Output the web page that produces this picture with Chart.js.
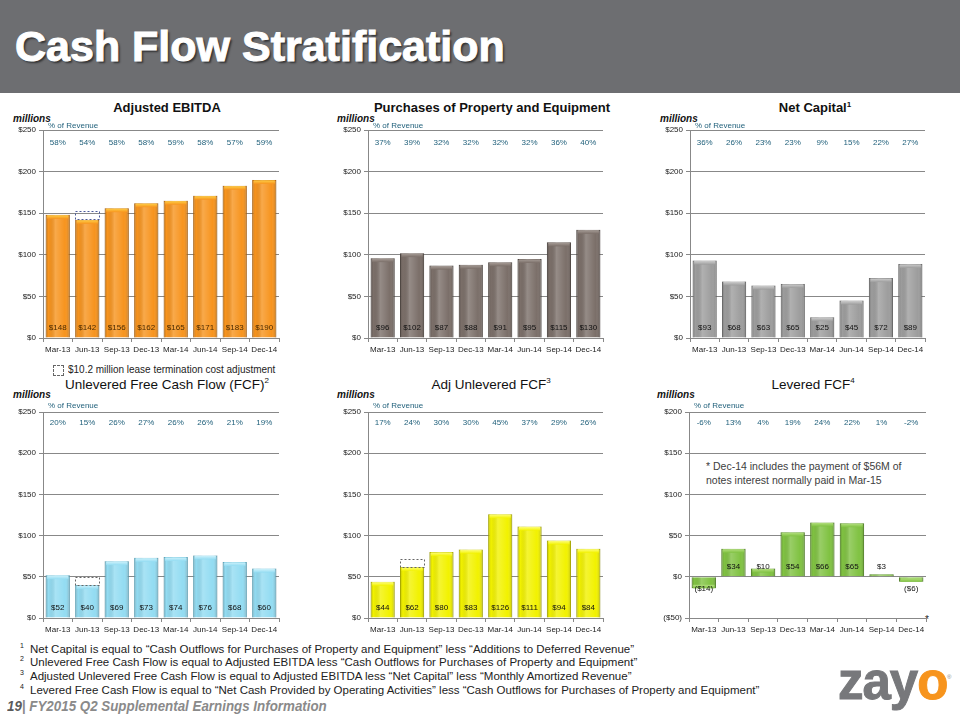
<!DOCTYPE html>
<html>
<head>
<meta charset="utf-8">
<script src="https://cdn.jsdelivr.net/npm/chart.js@4.4.1/dist/chart.umd.min.js"></script>
<style>
body { margin: 0; width: 960px; height: 720px; position: relative; overflow: hidden; background: #fff; font-family: "Liberation Sans", Arial, sans-serif; }
.abs { position: absolute; white-space: nowrap; }
#header { left: 0; top: 0; width: 960px; height: 93px; background: #6d6e71; }
#header span { position: absolute; left: 15px; top: 22px; font-size: 43px; font-weight: bold; color: #fff; -webkit-text-stroke: 1px #fff; text-shadow: 2px 2px 2px rgba(0,0,0,0.55); }
.title { font-size: 13px; font-weight: bold; color: #111; transform: translateX(-50%); }
.title2 { font-size: 13.5px; color: #111; transform: translateX(-50%); }
.title sup, .title2 sup { font-size: 8px; }
.mil { font-size: 10px; font-weight: bold; font-style: italic; color: #111; }
.note { font-size: 10.5px; color: #404040; line-height: 14px; }
.foot { left: 20px; font-size: 11.5px; color: #222; }
.foot sup { font-size: 7px; display: inline-block; width: 10px; }
canvas { position: absolute; }
</style>
</head>
<body>
<div id="header" class="abs"><span>Cash Flow Stratification</span></div>

<div class="abs title" style="left:167px;top:100px">Adjusted EBITDA</div>
<div class="abs title" style="left:492px;top:100px">Purchases of Property and Equipment</div>
<div class="abs title" style="left:815px;top:100px">Net Capital<sup>1</sup></div>
<div class="abs title2" style="left:167px;top:376px">Unlevered Free Cash Flow (FCF)<sup>2</sup></div>
<div class="abs title2" style="left:491px;top:376px">Adj Unlevered FCF<sup>3</sup></div>
<div class="abs title2" style="left:813px;top:376px">Levered FCF<sup>4</sup></div>

<div class="abs mil" style="left:13px;top:113px">millions</div>
<div class="abs mil" style="left:337px;top:113px">millions</div>
<div class="abs mil" style="left:660px;top:113px">millions</div>
<div class="abs mil" style="left:13px;top:389px">millions</div>
<div class="abs mil" style="left:337px;top:389px">millions</div>
<div class="abs mil" style="left:657px;top:389px">millions</div>

<div class="abs" style="left:53px;top:365px;width:9px;height:9px;border:1px dashed #666;"></div>
<div class="abs" style="left:68px;top:363px;font-size:10.5px;color:#222;transform-origin:0 0;transform:scaleX(0.95)">$10.2 million lease termination cost adjustment</div>

<div class="abs note" style="left:706px;top:459px">* Dec-14 includes the payment of $56M of<br>notes interest normally paid in Mar-15</div>
<div class="abs" style="left:925px;top:614px;font-size:10px;color:#222">*</div>

<div class="abs foot" style="top:642px"><sup>1</sup>Net Capital is equal to “Cash Outflows for Purchases of Property and Equipment” less “Additions to Deferred Revenue”</div>
<div class="abs foot" style="top:655px"><sup>2</sup>Unlevered Free Cash Flow is equal to Adjusted EBITDA less “Cash Outflows for Purchases of Property and Equipment”</div>
<div class="abs foot" style="top:669px"><sup>3</sup>Adjusted Unlevered Free Cash Flow is equal to Adjusted EBITDA less “Net Capital” less “Monthly Amortized Revenue”</div>
<div class="abs foot" style="top:683px"><sup>4</sup>Levered Free Cash Flow is equal to “Net Cash Provided by Operating Activities” less “Cash Outflows for Purchases of Property and Equipment”</div>

<div class="abs" style="left:7px;top:697px;font-size:15px;font-weight:bold;font-style:italic;color:#8a8a8a;transform-origin:0 0;transform:scaleX(0.89)"><span style="color:#5a5a5a">19</span>| FY2015 Q2 Supplemental Earnings Information</div>

<div class="abs" style="left:838px;top:652px;font-size:51px;font-weight:bold;color:#77787b;letter-spacing:-1px;-webkit-text-stroke:1px #77787b">zay<span style="color:#f7941d;-webkit-text-stroke:1px #f7941d">o</span></div>
<div class="abs" style="left:947px;top:674px;font-size:6px;color:#888">®</div>

<script>
// quarters on every x axis
const quarters = ['Mar-13', 'Jun-13', 'Sep-13', 'Dec-13', 'Mar-14', 'Jun-14', 'Sep-14', 'Dec-14'];

// values in $ millions, % of revenue row above each chart
const ebitda = [148, 142, 156, 162, 165, 171, 183, 190];
const ebitdaPct = [58, 54, 58, 58, 59, 58, 57, 59];
const capex = [96, 102, 87, 88, 91, 95, 115, 130];
const capexPct = [37, 39, 32, 32, 32, 32, 36, 40];
const netCapital = [93, 68, 63, 65, 25, 45, 72, 89];
const netCapitalPct = [36, 26, 23, 23, 9, 15, 22, 27];
const ufcf = [52, 40, 69, 73, 74, 76, 68, 60];
const ufcfPct = [20, 15, 26, 27, 26, 26, 21, 19];
const adjUfcf = [44, 62, 80, 83, 126, 111, 94, 84];
const adjUfcfPct = [17, 24, 30, 30, 45, 37, 29, 26];
const lfcf = [-14, 34, 10, 54, 66, 65, 3, -6];
const lfcfPct = [-6, 13, 4, 19, 24, 22, 1, -2];

// Jun-13 lease termination cost adjustment
const leaseAdj = 10.2;
const leaseAdjIndex = 1;

const money = v => v < 0 ? '($' + (-v) + ')' : '$' + v;

// plot area of each panel (page pixels) plus colours
const panels = [
    { L: 43, T: 130, R: 279, B: 338, values: ebitda, pct: ebitdaPct, min: 0, max: 250, fill: '#f7941e', cap: '#ffd54a', edge: '#d27710', text: '#4a2a00', adj: '#4a5a9a', pctDy: 13, revDy: -4 },
    { L: 368, T: 130, R: 603, B: 338, values: capex, pct: capexPct, min: 0, max: 250, fill: '#7b6f69', cap: '#aaa09a', edge: '#5e544f', text: '#111', adj: null, pctDy: 13, revDy: -4 },
    { L: 690, T: 130, R: 925, B: 338, values: netCapital, pct: netCapitalPct, min: 0, max: 250, fill: '#9d9d9d', cap: '#d2d2d2', edge: '#7e7e7e', text: '#111', adj: null, pctDy: 13, revDy: -4 },
    { L: 43, T: 412, R: 279, B: 618, values: ufcf, pct: ufcfPct, min: 0, max: 250, fill: '#93dcf2', cap: '#d4f4fc', edge: '#6cc3dd', text: '#111', adj: '#666', pctDy: 11, revDy: -6 },
    { L: 368, T: 412, R: 603, B: 618, values: adjUfcf, pct: adjUfcfPct, min: 0, max: 250, fill: '#f2f200', cap: '#ffff88', edge: '#cccc00', text: '#111', adj: '#666', pctDy: 11, revDy: -6 },
    { L: 689, T: 412, R: 926, B: 618, values: lfcf, pct: lfcfPct, min: -50, max: 200, fill: '#80c242', cap: '#b8e184', edge: '#5f9a2a', text: '#111', adj: null, pctDy: 11, revDy: -6 }
];

function makeChart(p) {
    const cv = document.createElement('canvas');
    cv.width = p.R - p.L + 44;
    cv.height = p.B - p.T + 30;
    cv.style.left = (p.L - 38) + 'px';
    cv.style.top = (p.T - 10) + 'px';
    document.body.appendChild(cv);

    // bevel shading, value labels, % row and the dashed adjustment box
    const decor = {
        id: 'decor',
        afterDatasetsDraw(chart) {
            const ctx = chart.ctx;
            const area = chart.chartArea;
            const ys = chart.scales.y;
            const zero = ys.getPixelForValue(0);
            const meta = chart.getDatasetMeta(0);
            ctx.save();
            meta.data.forEach((bar, i) => {
                const { x, y, base, width } = bar.getProps(['x', 'y', 'base', 'width'], true);
                const l = x - width / 2;
                const t = Math.min(y, base);
                const h = Math.abs(base - y);
                const g = ctx.createLinearGradient(l, 0, l + width, 0);
                g.addColorStop(0, 'rgba(0,0,0,0.2)');
                g.addColorStop(0.12, 'rgba(0,0,0,0)');
                g.addColorStop(0.4, 'rgba(255,255,255,0.2)');
                g.addColorStop(0.8, 'rgba(255,255,255,0)');
                g.addColorStop(1, 'rgba(0,0,0,0.22)');
                ctx.fillStyle = g;
                ctx.fillRect(l, t, width, h);
                if (h > 4) {
                    const capY = p.values[i] < 0 ? t + h - 4 : t;
                    const cg = ctx.createLinearGradient(0, capY, 0, capY + 4);
                    cg.addColorStop(0, p.cap);
                    cg.addColorStop(1, p.fill);
                    ctx.fillStyle = cg;
                    ctx.fillRect(l + 1.5, capY + 0.5, width - 3, 3.5);
                }
                ctx.font = '8px "Liberation Sans", Arial';
                ctx.textAlign = 'center';
                ctx.textBaseline = 'middle';
                ctx.fillStyle = p.text;
                const v = p.values[i];
                ctx.fillText(money(v), x, v < 0 ? zero + 12 : zero - 10);
                ctx.fillStyle = '#1f5f7a';
                ctx.fillText(p.pct[i] + '%', x, area.top + p.pctDy);
            });
            ctx.textAlign = 'left';
            ctx.fillStyle = '#1f5f7a';
            ctx.fillText('% of Revenue', area.left + 5, area.top + p.revDy);

            if (p.adj) {
                const bar = meta.data[leaseAdjIndex];
                const { x, width } = bar.getProps(['x', 'width'], true);
                const top = ys.getPixelForValue(p.values[leaseAdjIndex] + leaseAdj);
                const bottom = ys.getPixelForValue(p.values[leaseAdjIndex]);
                ctx.setLineDash([2, 2]);
                ctx.strokeStyle = p.adj;
                ctx.lineWidth = 1;
                ctx.strokeRect(Math.round(x - width / 2) + 0.5, Math.round(top) + 0.5, Math.round(width), Math.round(bottom - top));
            }
            ctx.restore();
        }
    };

    new Chart(cv, {
        type: 'bar',
        data: {
            labels: quarters,
            datasets: [{
                data: p.values,
                backgroundColor: p.fill,
                borderColor: p.edge,
                borderWidth: 1,
                barPercentage: 0.82,
                categoryPercentage: 1
            }]
        },
        options: {
            responsive: false,
            animation: false,
            layout: { padding: { top: 10, right: 6, left: 0, bottom: 0 } },
            plugins: { legend: { display: false }, tooltip: { enabled: false } },
            scales: {
                x: {
                    grid: { offset: true, drawOnChartArea: false, color: '#888', tickLength: 4 },
                    border: { color: '#888' },
                    ticks: { font: { size: 8, family: '"Liberation Sans", Arial' }, color: '#222', padding: 3, maxRotation: 0, autoSkip: false },
                    afterFit: s => { s.height = 20; }
                },
                y: {
                    min: p.min,
                    max: p.max,
                    ticks: { stepSize: 50, font: { size: 8, family: '"Liberation Sans", Arial' }, color: '#222', padding: 3, callback: v => money(v) },
                    grid: { color: '#888', tickLength: 4 },
                    border: { color: '#888' },
                    afterFit: s => { s.width = 38; }
                }
            }
        },
        plugins: [decor]
    });
}

panels.forEach(makeChart);
</script>
</body>
</html>
